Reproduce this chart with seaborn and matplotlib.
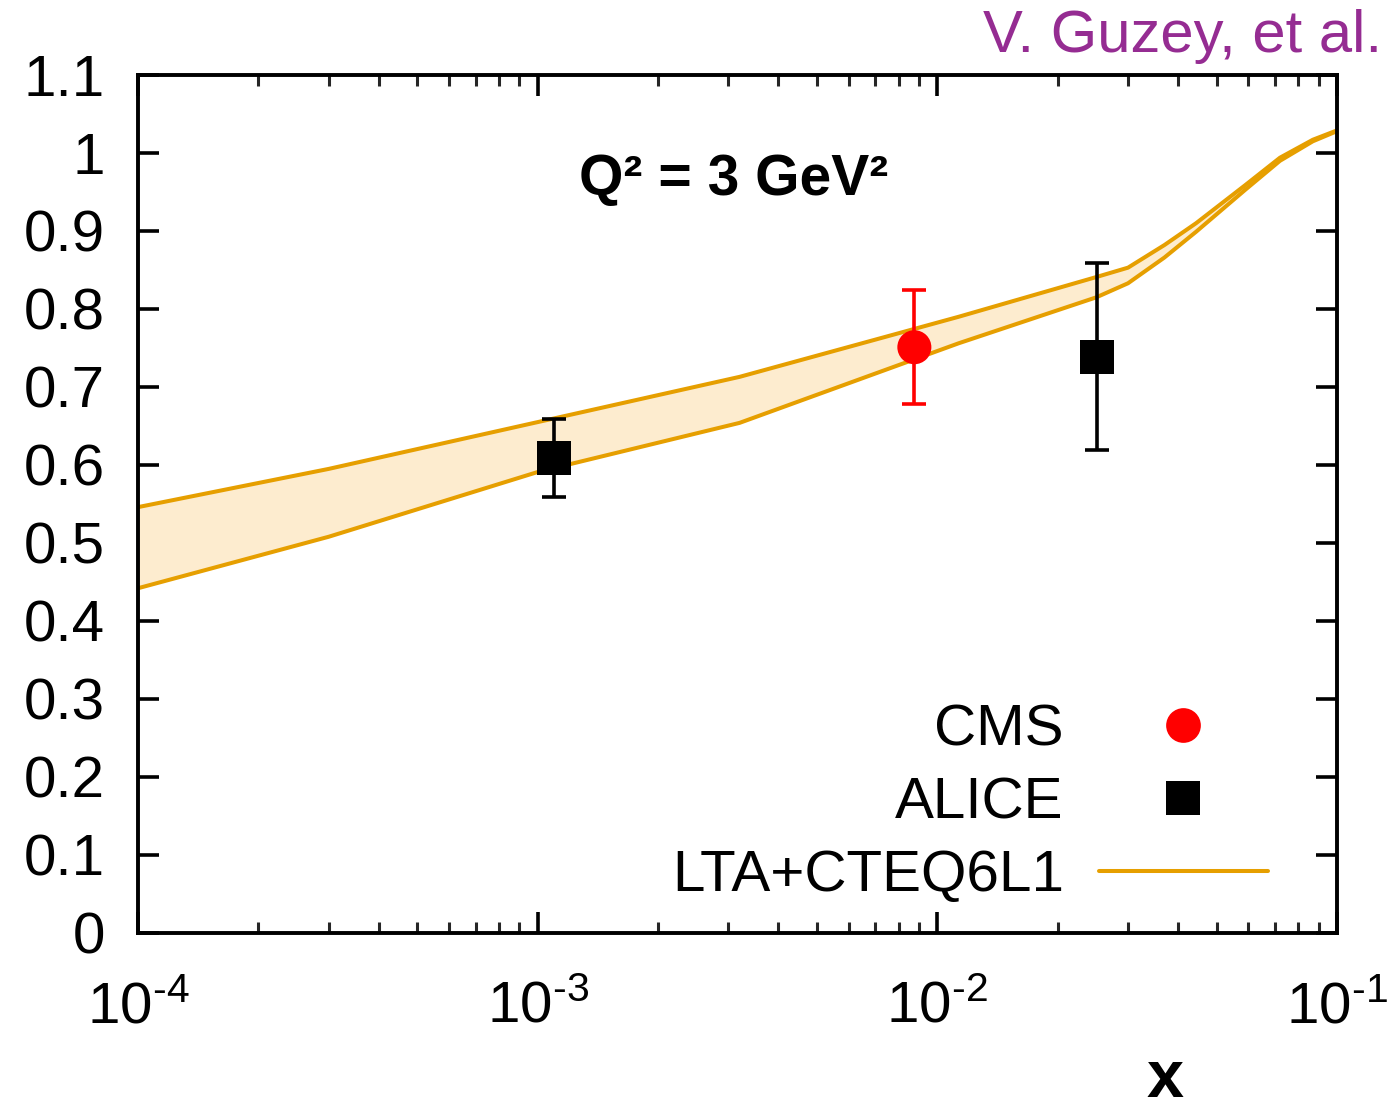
import numpy as np
import pandas as pd
import matplotlib
matplotlib.use("Agg")
import matplotlib.pyplot as plt
from matplotlib.lines import Line2D
from matplotlib.ticker import LogLocator, NullFormatter, FixedLocator
import seaborn as sns

# ---------------- data ----------------
band_x = [1e-4, 3.0e-4, 1.0e-3, 3.2e-3, 1.13e-2, 2.5e-2, 3.0e-2, 3.7e-2, 4.44e-2, 5.9e-2, 7.2e-2, 8.7e-2, 1e-1]
band_upper = [0.546, 0.595, 0.655, 0.713, 0.790, 0.841, 0.853, 0.882, 0.910, 0.959, 0.994, 1.017, 1.029]
band_lower = [0.442, 0.508, 0.591, 0.654, 0.756, 0.815, 0.833, 0.866, 0.899, 0.953, 0.990, 1.015, 1.028]

cms_x = [8.76e-3]
cms_y = [0.751]
cms_err = [0.073]

alice_x = [1.10e-3, 2.51e-2]
alice_y = [0.609, 0.739]
alice_err = [0.050, 0.120]

y_ticks = [0, 0.1, 0.2, 0.3, 0.4, 0.5, 0.6, 0.7, 0.8, 0.9, 1.0, 1.1]
y_tick_labels = ["0", "0.1", "0.2", "0.3", "0.4", "0.5", "0.6", "0.7", "0.8", "0.9", "1", "1.1"]
x_ticks = [1e-4, 1e-3, 1e-2, 1e-1]
x_tick_labels = ["10$^{\\text{-4}}$", "10$^{\\text{-3}}$", "10$^{\\text{-2}}$", "10$^{\\text{-1}}$"]

legend_labels = ["CMS", "ALICE", "LTA+CTEQ6L1"]

# ---------------- style ----------------
sns.set_style("ticks")
plt.rcParams["font.family"] = ["Liberation Sans", "DejaVu Sans"]
plt.rcParams["mathtext.fontset"] = "custom"
plt.rcParams["mathtext.rm"] = "Liberation Sans"
plt.rcParams["mathtext.it"] = "Liberation Sans:italic"
plt.rcParams["mathtext.bf"] = "Liberation Sans:bold"
plt.rcParams["text.color"] = "black"
plt.rcParams["legend.labelcolor"] = "black"

band_color = "#E69F00"
fill_color = "#FDECCF"
purple = "#952C92"
FS = 42

fig = plt.figure(figsize=(13.92, 11.10), dpi=100)
ax = fig.add_axes([138 / 1392, 1 - 933 / 1110, (1337 - 138) / 1392, (933 - 75) / 1110])

band_df = pd.DataFrame({"x": band_x, "upper": band_upper, "lower": band_lower})

ax.fill_between(band_df["x"], band_df["lower"], band_df["upper"], color=fill_color, lw=0, zorder=1)
sns.lineplot(data=band_df, x="x", y="upper", color=band_color, lw=2.9, ax=ax, zorder=2)
sns.lineplot(data=band_df, x="x", y="lower", color=band_color, lw=2.9, ax=ax, zorder=2)

# error bars
ax.errorbar(cms_x, cms_y, yerr=cms_err, fmt="none", ecolor="#FF0000", elinewidth=2.6,
            capsize=8.5, capthick=2.6, zorder=3)
ax.errorbar(alice_x, alice_y, yerr=alice_err, fmt="none", ecolor="black", elinewidth=2.6,
            capsize=8.5, capthick=2.6, zorder=3)

cms_df = pd.DataFrame({"x": cms_x, "y": cms_y})
alice_df = pd.DataFrame({"x": alice_x, "y": alice_y})
sns.scatterplot(data=cms_df, x="x", y="y", marker="o", s=600, color="#FF0000",
                edgecolor="none", ax=ax, zorder=4)
sns.scatterplot(data=alice_df, x="x", y="y", marker="s", s=600, color="black",
                edgecolor="none", ax=ax, zorder=4)

ax.set_xscale("log")
ax.set_xlim(1e-4, 1e-1)
ax.set_ylim(0, 1.1)
ax.set_xlabel("")
ax.set_ylabel("")

ax.set_yticks(y_ticks)
ax.set_yticklabels(y_tick_labels)
ax.xaxis.set_major_locator(FixedLocator(x_ticks))
ax.set_xticklabels(x_tick_labels)
ax.xaxis.set_minor_locator(LogLocator(base=10, subs=np.arange(2, 10)))
ax.xaxis.set_minor_formatter(NullFormatter())

for sp in ax.spines.values():
    sp.set_linewidth(2.8)
    sp.set_color("black")
    sp.set_visible(True)

ax.tick_params(axis="both", which="major", direction="in", length=15, width=2.6,
               top=True, right=True, labelsize=FS, colors="black")
ax.tick_params(axis="x", which="minor", direction="in", length=8, width=2.2, top=True, bottom=True)
ax.tick_params(axis="y", which="major", pad=24)
ax.tick_params(axis="x", which="major", pad=34)

# annotation texts
ax.text(0.497, 0.965 / 1.1, "Q² = 3 GeV²", transform=ax.transAxes,
        ha="center", va="center", fontsize=41, fontweight="bold", color="black", zorder=6)
fig.text(1382 / 1392, 1 - 37 / 1110, "V. Guzey, et al.", ha="right", va="center",
         fontsize=43, color=purple)
fig.text(1165 / 1392, 1 - 1080 / 1110, "x", ha="center", va="center", fontsize=48,
         fontweight="bold", color="black")

# legend (text left, symbol right)
handles = [
    Line2D([], [], marker="o", ls="none", color="#FF0000", markersize=25, markeredgewidth=0),
    Line2D([], [], marker="s", ls="none", color="black", markersize=24, markeredgewidth=0),
    Line2D([], [], color=band_color, lw=2.9),
]
ax.legend(handles, legend_labels, loc="lower right", markerfirst=False, frameon=False, fontsize=FS,
          handlelength=2.9, handletextpad=0.6, labelspacing=0.32, borderpad=0, borderaxespad=0,
          labelcolor="black")
leg = ax.get_legend()
leg.set_bbox_to_anchor((1268 / 1392, 1 - 903 / 1110), transform=fig.transFigure)

fig.savefig("out.png", dpi=100)
